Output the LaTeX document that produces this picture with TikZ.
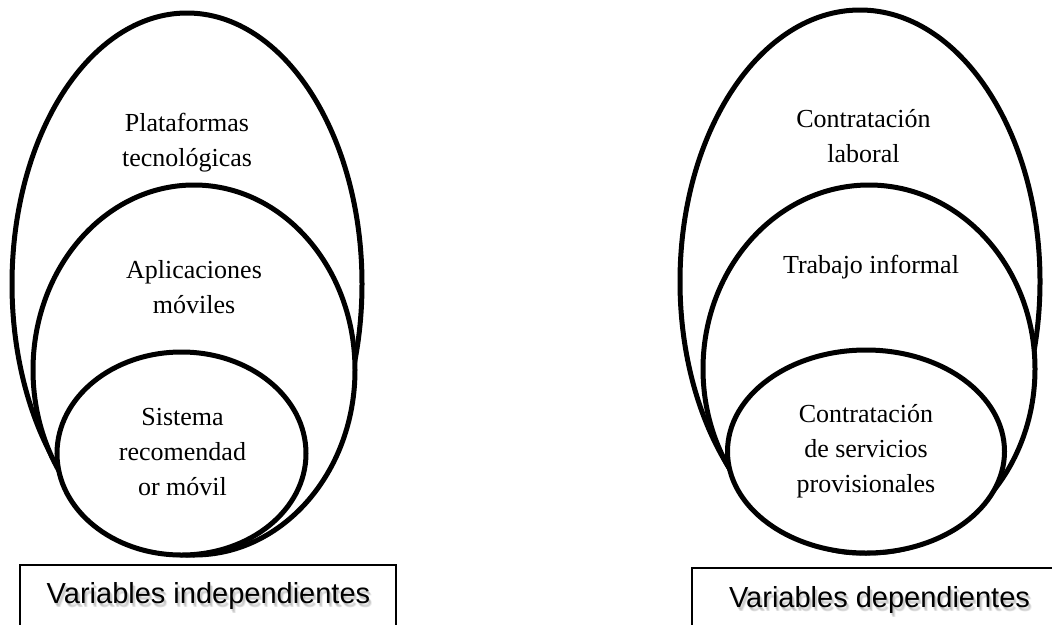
\documentclass[tikz,border=0pt]{standalone}
\usepackage{fontspec}
\setmainfont{Liberation Serif}
\newfontfamily\labelsans{Liberation Sans}
\begin{document}
\begin{tikzpicture}[x=1pt,y=-1pt,
  ring/.style={draw=black,line width=5pt,fill=white},
  varbox/.style={draw=black,line width=1.6pt},
  inlabel/.style={anchor=base,align=center,inner sep=0pt,
    font=\fontsize{26}{35}\selectfont},
  boxlabel/.style={anchor=base,inner sep=0pt,
    font=\labelsans\fontsize{29}{34}\selectfont},
  boxshade/.style={boxlabel,text=black,opacity=0.07}]
\useasboundingbox (0,0) rectangle (1052,624);
\clip (0,0) rectangle (1052,624);

% independent variables: nested ovals
\draw[ring] (187,284) ellipse [x radius=175,y radius=271];
\draw[ring] (194,370) ellipse [x radius=161,y radius=185];
\draw[ring] (181.5,453.5) ellipse [x radius=124.5,y radius=101.5];

% dependent variables: nested ovals
\draw[ring] (860,281.5) ellipse [x radius=180,y radius=271.5];
\draw[ring] (869,369) ellipse [x radius=166,y radius=184];
\draw[ring] (866,451.5) ellipse [x radius=138.5,y radius=101.5];

% labels inside the ovals (base anchor sits on the last line)
\node[inlabel] (plat) at (187,166) {Plataformas\\tecnológicas};
\node[inlabel] (apps) at (194,313) {Aplicaciones\\móviles};
\node[inlabel] (sist) at (182.5,495) {Sistema\\recomendad\\or móvil};

\node[inlabel] (contr) at (863.5,162) {Contratación\\laboral};
\node[inlabel] (trab) at (871,273) {Trabajo informal};
\node[inlabel] (serv) at (866,492) {Contratación\\de servicios\\provisionales};

% caption boxes
\draw[varbox] (20,565) rectangle (396,650);
\draw[varbox] (692,568) rectangle (1080,650);

% soft text shadow
\foreach \dx/\dy in {1/2,2/3,3/4,2/4} {
  \node[boxshade] (indsh) at (208.5+\dx,603+\dy) {Variables independientes};
  \node[boxshade] (depsh) at (879.5+\dx,607+\dy) {Variables dependientes};
}
\node[boxlabel] (ind) at (208.5,603) {Variables independientes};
\node[boxlabel] (dep) at (879.5,607) {Variables dependientes};
\end{tikzpicture}
\end{document}
